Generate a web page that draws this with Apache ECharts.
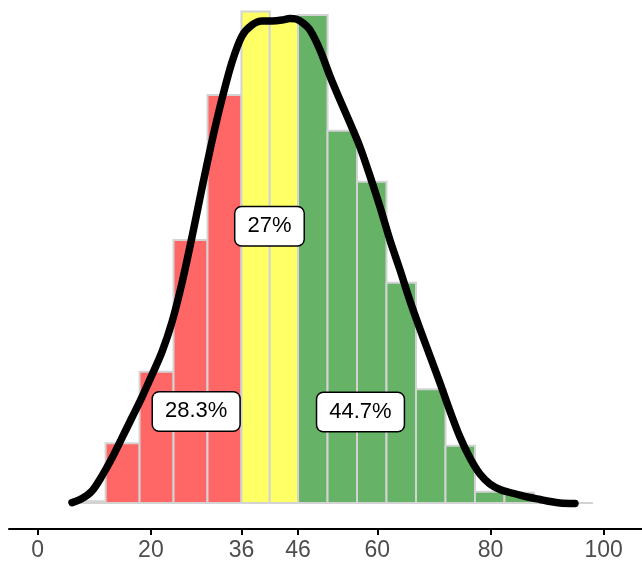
<!DOCTYPE html>
<html>
<head>
<meta charset="utf-8">
<script src="https://cdn.jsdelivr.net/npm/echarts@6/dist/echarts.min.js"></script>
<style>
html,body{margin:0;padding:0;background:#fff;}
#chart{width:642px;height:567px;}
</style>
</head>
<body>
<div id="chart"></div>
<script>
// Histogram bins (density scale)
var redEdges = [6, 12, 18, 24, 30, 36];
var redDensity = [0.0001, 0.00324, 0.00713, 0.01427, 0.02214];
var yellowEdges = [36, 41, 46];
var yellowDensity = [0.02667, 0.02616];
var greenEdges = [46, 51.21, 56.42, 61.63, 66.84, 72.05, 77.26, 82.47, 87.68, 92.89, 98.1];
var greenDensity = [0.02649, 0.02021, 0.01744, 0.01196, 0.00617, 0.00311, 0.00061, 0.00056, 0, 0];

// Density curve
var curveX = [6.06, 7.83, 9.59, 11.36, 13.13, 14.89, 16.66, 18.43, 20.19, 21.96, 23.73, 25.49, 27.26, 29.03, 30.80, 32.56, 34.33, 36.10, 37.86, 39.63, 41.40, 43.16, 44.58, 45.64, 46.87, 48.11, 49.88, 51.64, 53.41, 55.18, 56.94, 58.71, 60.48, 62.24, 64.01, 65.78, 67.54, 69.31, 71.08, 72.84, 74.61, 76.38, 78.14, 79.91, 81.68, 83.44, 85.21, 86.98, 88.74, 90.51, 92.28, 94.93];
var curveY = [0.00002, 0.00024, 0.00065, 0.00147, 0.00244, 0.00353, 0.00464, 0.00575, 0.00695, 0.00820, 0.00982, 0.01194, 0.01444, 0.01710, 0.01965, 0.02193, 0.02393, 0.02535, 0.02594, 0.02616, 0.02616, 0.02621, 0.02630, 0.02627, 0.02605, 0.02567, 0.02459, 0.02317, 0.02187, 0.02062, 0.01932, 0.01775, 0.01607, 0.01427, 0.01265, 0.01096, 0.00944, 0.00798, 0.00651, 0.00499, 0.00358, 0.00244, 0.00157, 0.00103, 0.00073, 0.00057, 0.00043, 0.00030, 0.00019, 0.00008, 0.00000, -0.00003];

// Percentage labels
var labelText = ['28.3%', '27%', '44.7%'];
var labelX = [28.0, 40.95, 57.03];
var labelY = [0.00497, 0.01502, 0.00494];

// Axis ticks
var tickValues = [0, 20, 36, 46, 60, 80, 100];

var groupColors = ['#FF6666', '#FFFF66', '#66B266'];

function binsFrom(edges, dens, g) {
  var out = [];
  for (var i = 0; i < dens.length; i++) out.push([edges[i], edges[i + 1], dens[i], g]);
  return out;
}
var binData = [].concat(
  binsFrom(redEdges, redDensity, 0),
  binsFrom(yellowEdges, yellowDensity, 1),
  binsFrom(greenEdges, greenDensity, 2)
);
var curveData = curveX.map(function (x, i) { return [x, curveY[i]]; });
var labelData = labelX.map(function (x, i) { return { value: [x, labelY[i]], name: labelText[i] }; });

var chart = echarts.init(document.getElementById('chart'), null, { renderer: 'canvas' });
chart.setOption({
  animation: false,
  backgroundColor: '#ffffff',
  textStyle: { fontFamily: 'Liberation Sans, Arial, sans-serif' },
  grid: { left: 9, right: 0, top: 0, bottom: 38, containLabel: false },
  xAxis: {
    type: 'value',
    min: -5.07,
    max: 106.77,
    splitLine: { show: false },
    axisLine: { show: true, onZero: false, lineStyle: { color: '#000', width: 2 } },
    axisTick: { show: true, length: 6, lineStyle: { color: '#000', width: 2 }, customValues: tickValues },
    axisLabel: { show: true, color: '#4D4D4D', fontSize: 23, margin: 10, customValues: tickValues, fontFamily: 'Liberation Sans, Arial, sans-serif' }
  },
  yAxis: {
    type: 'value',
    min: -0.001411,
    max: 0.0273,
    show: false,
    splitLine: { show: false }
  },
  series: [
    {
      type: 'custom',
      data: binData,
      encode: { x: [0, 1], y: 2 },
      renderItem: function (params, api) {
        var x0 = api.value(0), x1 = api.value(1), h = api.value(2), g = api.value(3);
        var p0 = api.coord([x0, 0]);
        var p1 = api.coord([x1, h]);
        return {
          type: 'rect',
          shape: { x: p0[0], y: p1[1], width: p1[0] - p0[0], height: p0[1] - p1[1] },
          style: { fill: groupColors[g], stroke: '#D3D3D3', lineWidth: 2 }
        };
      },
      z: 1
    },
    {
      type: 'line',
      data: curveData,
      smooth: 0.3,
      symbol: 'none',
      lineStyle: { color: '#000', width: 7.5, cap: 'round', join: 'round' },
      z: 2
    },
    {
      type: 'scatter',
      data: labelData,
      symbolSize: 1,
      itemStyle: { opacity: 1, color: 'rgba(0,0,0,0)' },
      emphasis: { disabled: true },
      z: 3,
      label: {
        show: true,
        position: 'inside',
        formatter: function (p) { return p.name; },
        color: '#000',
        opacity: 1,
        fontSize: 22,
        lineHeight: 24,
        fontFamily: 'Liberation Sans, Arial, sans-serif',
        backgroundColor: '#ffffff',
        borderColor: '#000',
        borderWidth: 1.5,
        borderRadius: 6,
        padding: [7, 12]
      }
    }
  ]
});
</script>
</body>
</html>
